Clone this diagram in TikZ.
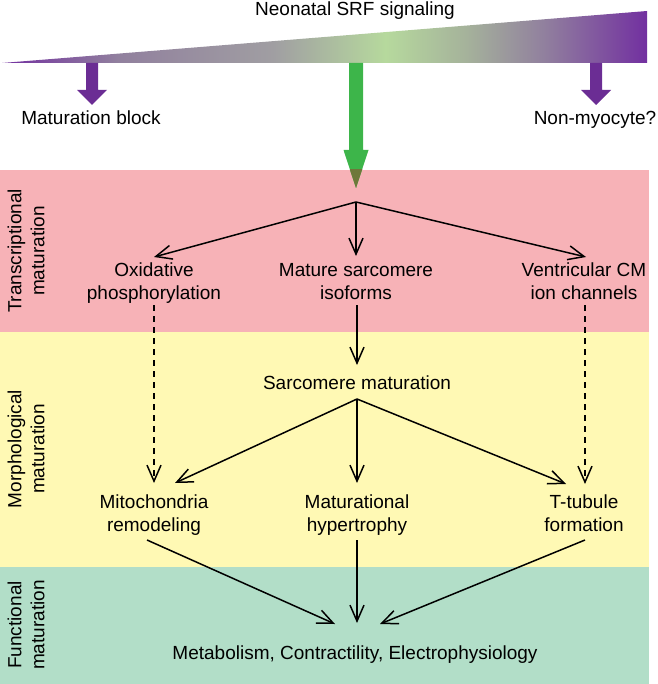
\documentclass[tikz,border=0pt]{standalone}
\usepackage{fontspec}
\setmainfont{Liberation Sans}
\usetikzlibrary{arrows.meta}
\definecolor{srfpurple}{RGB}{114,48,160}
\definecolor{srfgrey}{RGB}{160,158,162}
\definecolor{srfgreen}{RGB}{182,217,157}
\definecolor{srfgreygreen}{RGB}{165,178,155}
\definecolor{srfgreypurple}{RGB}{145,128,158}
\definecolor{arrowpurple}{RGB}{107,45,148}
\definecolor{arrowgreen}{RGB}{61,181,74}
\definecolor{arrowolive}{RGB}{110,120,58}
\definecolor{bandpink}{RGB}{247,178,183}
\definecolor{bandyellow}{RGB}{255,249,180}
\definecolor{bandgreen}{RGB}{178,222,200}
\pgfdeclarehorizontalshading{srfshade}{100bp}{color(0bp)=(srfpurple); color(25bp)=(srfpurple); color(34bp)=(srfgreypurple); color(46bp)=(srfgrey); color(54.75bp)=(srfgreen); color(61bp)=(srfgreygreen); color(67bp)=(srfgreypurple); color(75bp)=(srfpurple); color(100bp)=(srfpurple)}
\begin{document}
\begin{tikzpicture}[x=1pt,y=-1pt,
  lbl/.style={font=\fontsize{19}{23}\selectfont, inner sep=0pt, align=center},
  flow/.style={draw, line width=1.5pt, line join=round, -{Straight Barb[length=16pt,width=14pt,line width=1.5pt]}},
  dashflow/.style={flow, dash pattern=on 6pt off 5pt},
  fatpurple/.style={fill=arrowpurple}]
\useasboundingbox (0,0) rectangle (657,684);
% bands
\fill[bandpink] (0,170) rectangle (649,332);
\fill[bandyellow] (0,332) rectangle (649,567);
\fill[bandgreen] (0,567) rectangle (649,684);
% wedge
\shade[shading=srfshade] (2,63) -- (647,11) -- (647,63) -- cycle;
% purple arrows
\fill[fatpurple] (86,63) -- (98,63) -- (98,90) -- (107,90) -- (92,105) -- (77,90) -- (86,90) -- cycle;
\fill[fatpurple] (590,63) -- (602,63) -- (602,90) -- (611,90) -- (596,105) -- (581,90) -- (590,90) -- cycle;
% green arrow
\fill[arrowgreen] (349,63) -- (363,63) -- (363,150) -- (368.5,150) -- (356,188) -- (343.5,150) -- (349,150) -- cycle;
\begin{scope}
\clip (0,170) rectangle (657,684);
\fill[arrowolive] (349,63) -- (363,63) -- (363,150) -- (368.5,150) -- (356,188) -- (343.5,150) -- (349,150) -- cycle;
\end{scope}
% texts
\node[lbl, anchor=base] (title) at (355,16) {Neonatal SRF signaling};
\node[lbl, anchor=base] (block) at (91,125) {Maturation block};
\node[lbl, anchor=base] (nonmyo) at (595,125) {Non-myocyte?};
\node[lbl, rotate=90] (tm) at (26,251) {Transcriptional\\maturation};
\node[lbl, rotate=90] (mm) at (26,449) {Morphological\\maturation};
\node[lbl, rotate=90] (fm) at (26,625) {Functional\\maturation};
\node[lbl] (ox) at (154,283.5) {Oxidative\\phosphorylation};
\node[lbl] (msi) at (356,283.5) {Mature sarcomere\\isoforms\vphantom{y}};
\node[lbl] (vc) at (584,283.5) {Ventricular CM\\ion channels\vphantom{y}};
\node[lbl, anchor=base] (sm) at (357,389) {Sarcomere maturation};
\node[lbl] (mito) at (154,515.5) {Mitochondria\\remodeling};
\node[lbl] (hyp) at (357,515.5) {Maturational\\hypertrophy};
\node[lbl] (tt) at (584,515.5) {T-tubule\\formation\vphantom{y}};
\node[lbl, anchor=base] (func) at (355,659) {Metabolism, Contractility, Electrophysiology};
% connector coordinates
\coordinate (j1) at (356,202);
\coordinate (oxtop) at (154,257);
\coordinate (msitop) at (356,256);
\coordinate (vctop) at (586,257);
\coordinate (oxbot) at (154,305);
\coordinate (msibot) at (357,305);
\coordinate (vcbot) at (585,305);
\coordinate (smtop) at (357,365);
\coordinate (j2) at (357,399);
\coordinate (mitotopd) at (154,483);
\coordinate (mitotop) at (175,483);
\coordinate (hyptop) at (357,483);
\coordinate (tttop) at (566,484);
\coordinate (tttopd) at (585,484);
\coordinate (mitobot) at (147,540);
\coordinate (hypbot) at (357,540);
\coordinate (ttbot) at (585,540);
\coordinate (funcl) at (335,624);
\coordinate (funcm) at (357,623);
\coordinate (funcr) at (380,624);
% connectors
\draw[flow] (j1) -- (oxtop);
\draw[flow] (j1) -- (msitop);
\draw[flow] (j1) -- (vctop);
\draw[flow] (msibot) -- (smtop);
\draw[dashflow] (oxbot) -- (mitotopd);
\draw[dashflow] (vcbot) -- (tttopd);
\draw[flow] (j2) -- (mitotop);
\draw[flow] (j2) -- (hyptop);
\draw[flow] (j2) -- (tttop);
\draw[flow] (mitobot) -- (funcl);
\draw[flow] (hypbot) -- (funcm);
\draw[flow] (ttbot) -- (funcr);
\end{tikzpicture}
\end{document}
